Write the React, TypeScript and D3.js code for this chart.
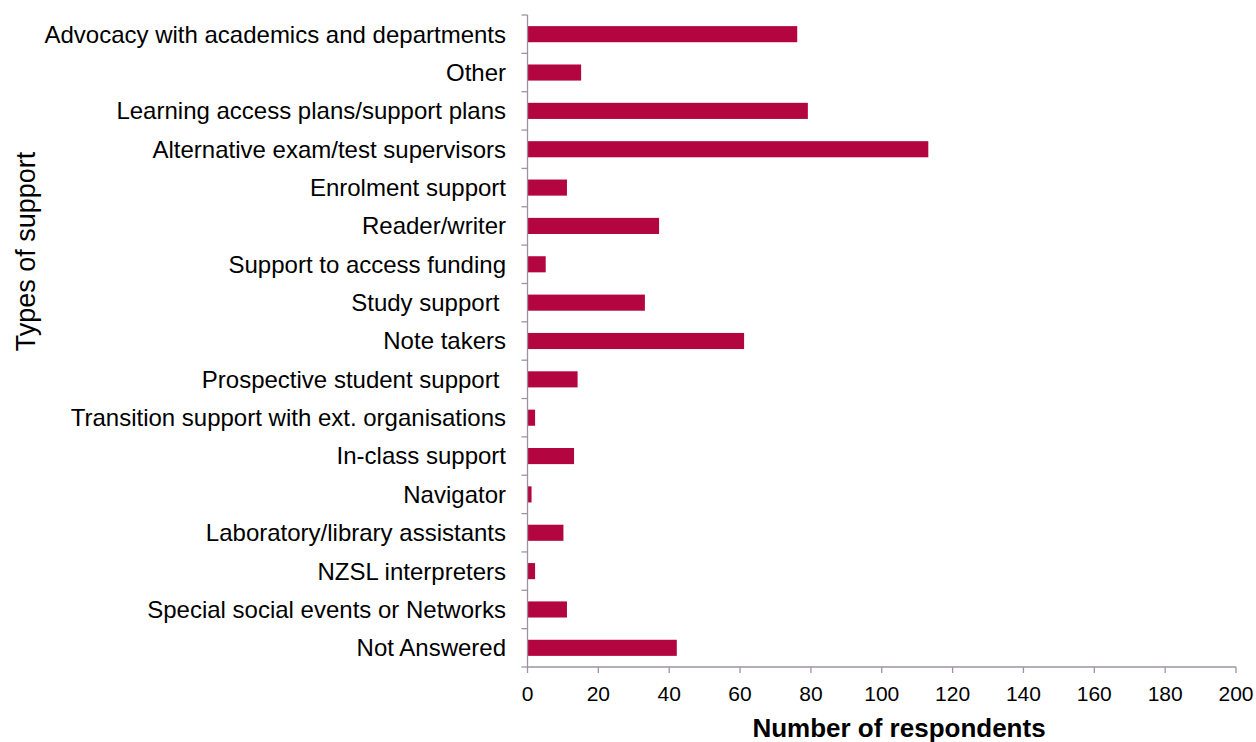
import React from "react";
import * as d3 from "d3";

const categories = [
  "Advocacy with academics and departments",
  "Other",
  "Learning access plans/support plans",
  "Alternative exam/test supervisors",
  "Enrolment support",
  "Reader/writer",
  "Support to access funding",
  "Study support ",
  "Note takers",
  "Prospective student support ",
  "Transition support with ext. organisations",
  "In-class support",
  "Navigator",
  "Laboratory/library assistants",
  "NZSL interpreters",
  "Special social events or Networks",
  "Not Answered",
];
const values = [76, 15, 79, 113, 11, 37, 5, 33, 61, 14, 2, 13, 1, 10, 2, 11, 42];
const xTicks = [0, 20, 40, 60, 80, 100, 120, 140, 160, 180, 200];

const W = 1256;
const H = 742;
const left = 527.5;
const right = 1236;
const top = 15;
const bottom = 667;
const axisColor = "#9d93a3";
const barColor = "#b30641";
const font = "'Liberation Sans', Arial, sans-serif";

export default function App() {
  const x = d3.scaleLinear().domain([0, 200]).range([left, right]);
  const y = d3.scaleBand().domain(categories).range([top, bottom]).paddingInner(0.58).paddingOuter(0.29);
  const band = (bottom - top) / categories.length;
  return (
    <svg width={W} height={H} style={{ position: "absolute", left: 0, top: 0 }}>
      <rect width={W} height={H} fill="#fff" />
      {categories.map((c, i) => (
        <rect key={c} x={x(0) + 0.5} y={y(c)} width={x(values[i]) - x(0)} height={y.bandwidth()} fill={barColor} />
      ))}
      <line x1={left} x2={left} y1={top} y2={bottom} stroke={axisColor} strokeWidth={1.3} />
      {d3.range(categories.length + 1).map((i) => (
        <line key={i} x1={left - 6} x2={left} y1={top + i * band} y2={top + i * band} stroke={axisColor} strokeWidth={1.3} />
      ))}
      {categories.map((c) => (
        <text key={c} x={506} y={y(c)! + y.bandwidth() / 2} dy="0.35em" textAnchor="end" fontFamily={font} fontSize={24} fill="#000" style={{ whiteSpace: "pre" }}>
          {c}
        </text>
      ))}
      <line x1={left} x2={right} y1={bottom} y2={bottom} stroke={axisColor} strokeWidth={1.3} />
      {xTicks.map((t) => (
        <g key={t}>
          <line x1={x(t)} x2={x(t)} y1={bottom} y2={bottom + 6} stroke={axisColor} strokeWidth={1.3} />
          <text x={x(t)} y={694} dy="0.35em" textAnchor="middle" fontFamily={font} fontSize={21} fill="#000">
            {t}
          </text>
        </g>
      ))}
      <text x={899} y={728} dy="0.35em" textAnchor="middle" fontFamily={font} fontSize={26} fontWeight="bold" fill="#000">
        Number of respondents
      </text>
      <text transform={`translate(25.5,251.5) rotate(-90)`} dy="0.35em" textAnchor="middle" fontFamily={font} fontSize={27} fill="#000">
        Types of support
      </text>
    </svg>
  );
}
